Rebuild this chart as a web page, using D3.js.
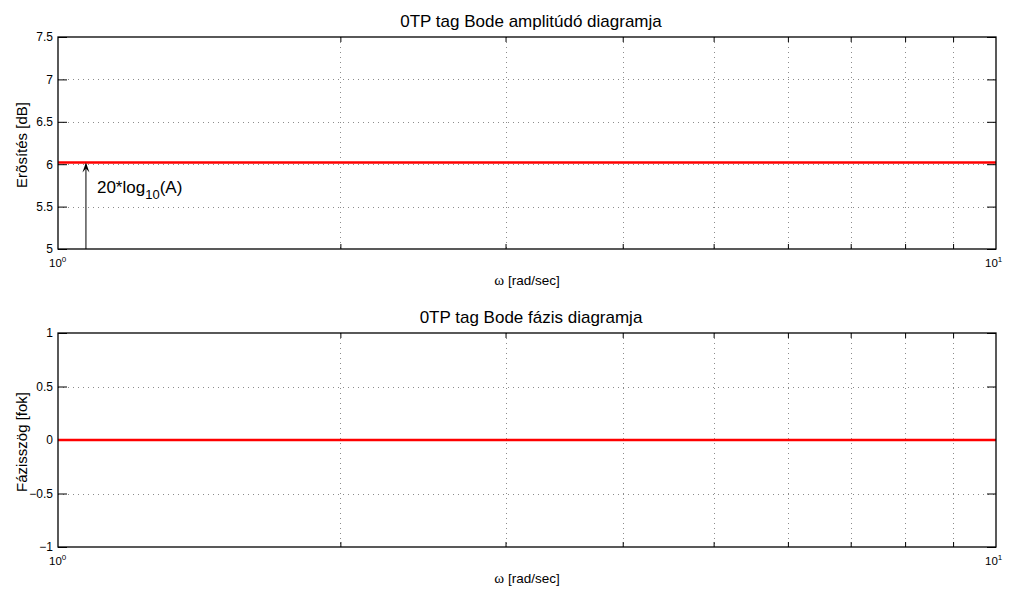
<!DOCTYPE html>
<html>
<head>
<meta charset="utf-8">
<script src="https://cdn.jsdelivr.net/npm/d3@7"></script>
<style>
  html, body { margin: 0; padding: 0; background: #fff; }
  svg { display: block; font-family: "Liberation Sans", Arial, Helvetica, sans-serif; }
</style>
</head>
<body>
<svg id="chart" width="1010" height="590"></svg>
<script>
// Frequency samples and response of a zero-order (proportional) element
const omega = [1, 2, 3, 4, 5, 6, 7, 8, 9, 10];
const amplitudeDb = [6.0206, 6.0206, 6.0206, 6.0206, 6.0206, 6.0206, 6.0206, 6.0206, 6.0206, 6.0206];
const phaseDeg = [0, 0, 0, 0, 0, 0, 0, 0, 0, 0];

const ampTicks = [5, 5.5, 6, 6.5, 7, 7.5];
const phaseTicks = [-1, -0.5, 0, 0.5, 1];
const gridFreqs = [2, 3, 4, 5, 6, 7, 8, 9];
const decadeTicks = [1, 10];

const titles = ["0TP tag Bode amplitúdó diagramja", "0TP tag Bode fázis diagramja"];
const yLabels = ["Erõsítés [dB]", "Fázisszög [fok]"];
const xLabelSymbol = "ω";
const xLabelUnit = " [rad/sec]";
const annotation = { x: 1.071, text: "20*log", sub: "10", tail: "(A)" };

const svg = d3.select("#chart");
const left = 58, right = 996;

const x = d3.scaleLog().domain([1, 10]).range([left, right]);

const panels = [
  { top: 37, bottom: 249, domain: [5, 7.5], ticks: ampTicks, values: amplitudeDb, fmt: d => String(d) },
  { top: 333, bottom: 547, domain: [-1, 1], ticks: phaseTicks, values: phaseDeg, fmt: d => (d < 0 ? "\u2212" + Math.abs(d) : String(d)) }
];

panels.forEach((p, i) => {
  const y = d3.scaleLinear().domain(p.domain).range([p.bottom, p.top]);
  const g = svg.append("g");

  // dotted grid
  const grid = g.append("g").attr("stroke", "#8c8c8c").attr("stroke-width", 1)
    .attr("stroke-dasharray", "1,4").attr("shape-rendering", "crispEdges");
  gridFreqs.forEach(f => {
    grid.append("line").attr("x1", Math.round(x(f)) + 0.5).attr("x2", Math.round(x(f)) + 0.5)
      .attr("y1", p.top).attr("y2", p.bottom);
  });
  p.ticks.slice(1, -1).forEach(t => {
    grid.append("line").attr("x1", left).attr("x2", right)
      .attr("y1", Math.round(y(t)) + 0.5).attr("y2", Math.round(y(t)) + 0.5);
  });

  // axes via d3
  const yAxisL = d3.axisLeft(y).tickValues(p.ticks).tickFormat(p.fmt).tickSize(-9).tickPadding(5);
  const yAxisR = d3.axisRight(y).tickValues(p.ticks).tickFormat("").tickSize(-9);
  const xAxisB = d3.axisBottom(x).tickValues(gridFreqs).tickFormat("").tickSize(-5);
  const xAxisT = d3.axisTop(x).tickValues(gridFreqs).tickFormat("").tickSize(-5);

  const style = sel => {
    sel.select(".domain").remove();
    sel.selectAll("line").attr("stroke", "#000");
    sel.selectAll("text").attr("font-size", 12).attr("fill", "#000").attr("font-family", "Liberation Sans, Arial, sans-serif");
  };
  g.append("g").attr("transform", `translate(${left},0)`).call(yAxisL).call(style);
  g.append("g").attr("transform", `translate(${right},0)`).call(yAxisR).call(style);
  g.append("g").attr("transform", `translate(0,${p.bottom})`).call(xAxisB).call(style);
  g.append("g").attr("transform", `translate(0,${p.top})`).call(xAxisT).call(style);

  // decade labels 10^0, 10^1
  decadeTicks.forEach(d => {
    const t = g.append("text").attr("x", x(d) + (d === 1 ? -9 : -11)).attr("y", p.bottom + 18)
      .attr("font-size", 11.5).attr("fill", "#000");
    t.append("tspan").text("10");
    t.append("tspan").attr("dy", -5).attr("font-size", 8).text(String(Math.log10(d)));
  });

  // data line
  const line = d3.line().x((d, k) => x(omega[k])).y(d => y(d));
  g.append("path").datum(p.values).attr("d", line)
    .attr("fill", "none").attr("stroke", "#ff0000").attr("stroke-width", 2.5);

  // frame
  g.append("rect").attr("x", left).attr("y", p.top).attr("width", right - left).attr("height", p.bottom - p.top)
    .attr("fill", "none").attr("stroke", "#000").attr("stroke-width", 1.3);

  // titles & labels
  g.append("text").attr("x", (left + right) / 2 + 4).attr("y", p.top - 10)
    .attr("text-anchor", "middle").attr("font-size", 17).attr("fill", "#000").text(titles[i]);
  const xl = g.append("text").attr("x", (left + right) / 2).attr("y", p.bottom + 36)
    .attr("text-anchor", "middle").attr("font-size", 13.5).attr("fill", "#000");
  xl.append("tspan").attr("font-family", "Liberation Serif, Times New Roman, serif").attr("font-size", 15).text(xLabelSymbol);
  xl.append("tspan").text(xLabelUnit);
  const cy = (p.top + p.bottom) / 2 + 2;
  g.append("text").attr("transform", `translate(27,${cy}) rotate(-90)`)
    .attr("text-anchor", "middle").attr("font-size", 15).attr("fill", "#000").text(yLabels[i]);

  // annotation arrow on amplitude panel
  if (i === 0) {
    const ax = x(annotation.x);
    const yTop = y(amplitudeDb[0]);
    g.append("line").attr("x1", ax).attr("x2", ax).attr("y1", p.bottom).attr("y2", yTop + 2)
      .attr("stroke", "#000").attr("stroke-width", 1);
    g.append("path")
      .attr("d", `M${ax},${yTop} L${ax - 3.5},${yTop + 10} L${ax},${yTop + 6} L${ax + 3.5},${yTop + 10} Z`)
      .attr("fill", "#000");
    const t = g.append("text").attr("x", ax + 11).attr("y", 193).attr("font-size", 17).attr("fill", "#000");
    t.append("tspan").text(annotation.text);
    t.append("tspan").attr("dy", 6).attr("font-size", 13).text(annotation.sub);
    t.append("tspan").attr("dy", -6).text(annotation.tail);
  }
});
</script>
</body>
</html>
